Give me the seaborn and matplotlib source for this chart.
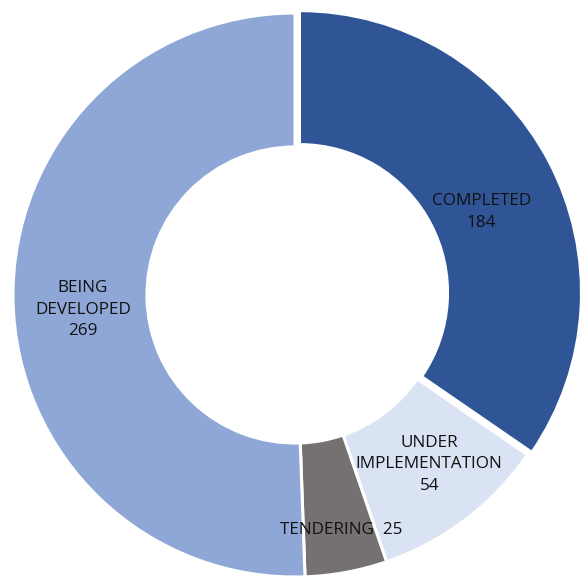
import matplotlib
matplotlib.use("Agg")
import matplotlib.pyplot as plt
import numpy as np
import seaborn as sns

# Project status counts
categories = ["COMPLETED", "UNDER\nIMPLEMENTATION", "TENDERING", "BEING\nDEVELOPED"]
values = [184, 54, 25, 269]
colors = ["#2F5597", "#DAE3F3", "#767171", "#8FA7D6"]

sns.set_theme(style="white")
plt.rcParams["font.family"] = ["Open Sans", "DejaVu Sans"]

W, H = 582, 577
fig = plt.figure(figsize=(W / 100, H / 100), dpi=100)
ax = fig.add_axes([0, 0, 1, 1])

cx, cy, r = 295, H - 295, 282
ring = 0.475
pull = 0.018  # completed slice pulled out by this fraction of the radius

# matplotlib applies explode in data units, so scale it by the radius
wedges, _ = ax.pie(
    values,
    colors=sns.color_palette(colors),
    startangle=90,
    counterclock=False,
    explode=[pull * r, 0, 0, 0],
    center=(cx, cy),
    radius=r,
    frame=True,
    wedgeprops=dict(width=ring * r, edgecolor="white", linewidth=2.2),
)
ax.set_xlim(0, W)
ax.set_ylim(0, H)
ax.set_axis_off()

# Label placement per slice: (fraction of radius, angle shift in degrees)
label_pos = [(0.705, -3.8), (0.766, 1.2), (0.85, 0.5), (0.754, 3.0)]
label_text = [f"{c}\n{v}" for c, v in zip(categories, values)]
label_text[2] = f"{categories[2]}  {values[2]}"
for w, txt, (d, shift) in zip(wedges, label_text, label_pos):
    mid = np.deg2rad((w.theta1 + w.theta2) / 2 + shift)
    x0, y0 = w.center
    ax.text(x0 + d * r * np.cos(mid), y0 + d * r * np.sin(mid), txt,
            ha="center", va="center", fontsize=12.3, color="#111111",
            linespacing=1.45)

fig.savefig("out.png", dpi=100)
